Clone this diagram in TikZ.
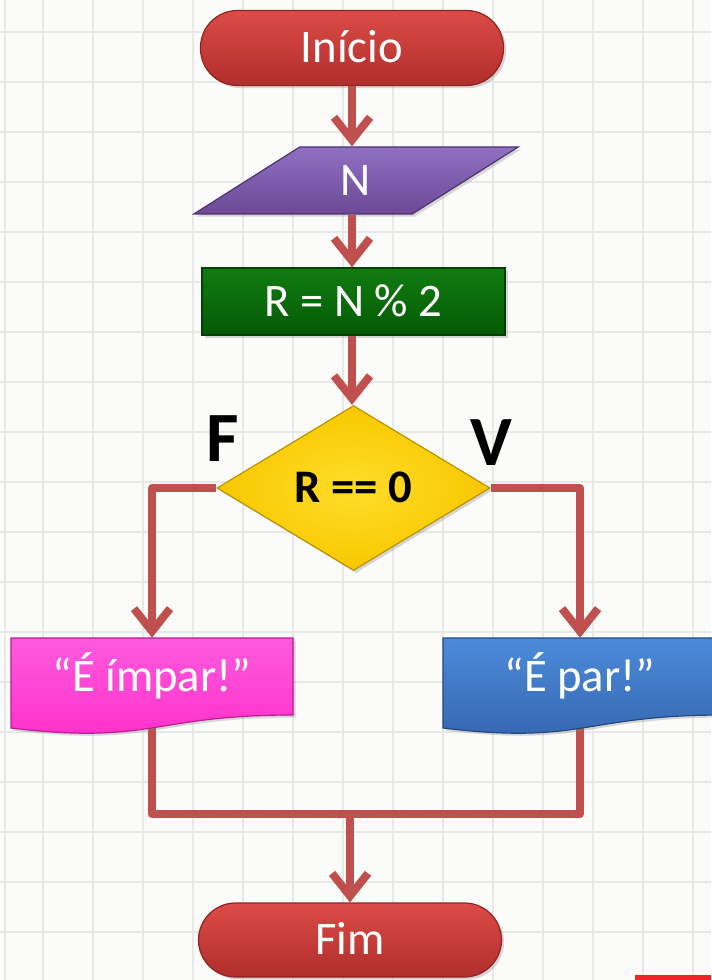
\documentclass[tikz,border=0pt]{standalone}
\usepackage{fontspec}
\setmainfont{Carlito}
\usetikzlibrary{arrows.meta,shapes.geometric,backgrounds,shadows}
\definecolor{bgcol}{HTML}{FBFBF9}
\definecolor{gridc}{HTML}{E8E8E5}
\definecolor{arrowred}{HTML}{C0504D}
\definecolor{termtop}{HTML}{DC4B47}
\definecolor{termbot}{HTML}{B02E2B}
\definecolor{termedge}{HTML}{8E2423}
\definecolor{paratop}{HTML}{9070C2}
\definecolor{parabot}{HTML}{6B4996}
\definecolor{paraedge}{HTML}{4E3470}
\definecolor{greentop}{HTML}{107C10}
\definecolor{greenbot}{HTML}{055A05}
\definecolor{greenedge}{HTML}{034003}
\definecolor{yelin}{HTML}{FFDD2A}
\definecolor{yelout}{HTML}{F8C800}
\definecolor{yeledge}{HTML}{B89400}
\definecolor{pinktop}{HTML}{FF5ADF}
\definecolor{pinkbot}{HTML}{FF2EC8}
\definecolor{pinkedge}{HTML}{B81E96}
\definecolor{bluetop}{HTML}{4C8BD9}
\definecolor{bluebot}{HTML}{3465AE}
\definecolor{blueedge}{HTML}{244A82}
\definecolor{stripred}{HTML}{F02424}
\begin{document}
\begin{tikzpicture}[x=0.75pt,y=-0.75pt,
  gridline/.style={draw=gridc, line width=1.3pt},
  wire/.style={draw=arrowred, line width=6pt, line join=round},
  conn/.style={wire, -{Straight Barb[length=17pt,width=27pt]}},
  shd/.style={drop shadow={opacity=0.3, shadow xshift=1.9pt, shadow yshift=-1.9pt}},
  lbl/.style={text=white, font=\fontsize{35}{40}\selectfont, text height=22pt, text depth=0pt, inner sep=0pt, align=center},
  term/.style={lbl, rectangle, rounded corners=27.75pt, minimum width=227.25pt, minimum height=56.25pt,
    top color=termtop, bottom color=termbot, draw=termedge, line width=0.9pt, shd},
  para/.style={lbl, trapezium, trapezium left angle=46, trapezium right angle=134, trapezium stretches=true,
    minimum width=244.5pt, minimum height=50.25pt, top color=paratop, bottom color=parabot, draw=paraedge, line width=0.9pt, shd},
  procbox/.style={lbl, rectangle, minimum width=227.25pt, minimum height=50.25pt,
    top color=greentop, bottom color=greenbot, draw=greenedge, line width=0.9pt, shd},
  decbox/.style={lbl, text=black, font=\fontsize{35}{40}\selectfont\bfseries, diamond, minimum width=204.75pt, minimum height=123.75pt,
    inner color=yelin, outer color=yelout, draw=yeledge, line width=0.9pt, shd},
  docbox/.style={lbl, rectangle, minimum width=211.5pt, minimum height=57.75pt},
  flag/.style={text=black, font=\fontsize{53}{60}\selectfont\bfseries, text height=33.4pt, text depth=0pt, inner sep=0pt}
]
\useasboundingbox (0,0) rectangle (711,980);

% nodes
\node[term] (inicio) at (352,48) {Início};
\node[para] (n) at (356,180.5) {N};
\node[procbox] (calc) at (353.5,301.5) {R = N \% 2};
\node[decbox] (dec) at (353.5,488) {R == 0};
\node[docbox] (impar) at (152,676.5) {“É ímpar!”};
\node[docbox] (par) at (580,676.5) {“É par!”};
\node[term, minimum height=55.5pt] (fim) at (350,940) {Fim};
\node[flag] (flabel) at (223,439.5) {F};
\node[flag] (vlabel) at (491,443.5) {V};
\coordinate (join) at (350,814);

\begin{pgfonlayer}{background}
% background grid
\fill[bgcol] (0,0) rectangle (711,980);
\foreach \x in {43,93,...,693} \draw[gridline] (\x,0) -- (\x,980);
\draw[gridline] (5,0) -- (5,980);
\foreach \y in {32,82,...,982} \draw[gridline] (0,\y) -- (711,\y);
% connectors
\draw[conn] (inicio.south) -- (inicio.south |- n.north);
\draw[conn] (inicio.south |- n.south) -- (inicio.south |- calc.north);
\draw[conn] (inicio.south |- calc.south) -- (inicio.south |- dec.north);
\draw[conn] (dec.west) -| (impar.north);
\draw[conn] (dec.east) -| (par.north);
\draw[wire] (impar.center) |- (join) -| (par.center);
\draw[conn] (join) -- (fim.north);
% document shapes (behind their text nodes)
\shade[top color=pinktop, bottom color=pinkbot, draw=pinkedge, line width=0.9pt, shd]
  (11,638) -- (293,638) -- (293,715) .. controls (152,715) and (152,745) .. (11,728) -- cycle;
\shade[top color=bluetop, bottom color=bluebot, draw=blueedge, line width=0.9pt, shd]
  (443,638) -- (723,638) -- (723,715) .. controls (583,715) and (583,745) .. (443,728) -- cycle;
\end{pgfonlayer}

\fill[stripred] (635,975) rectangle (711,980);
\end{tikzpicture}
\end{document}
